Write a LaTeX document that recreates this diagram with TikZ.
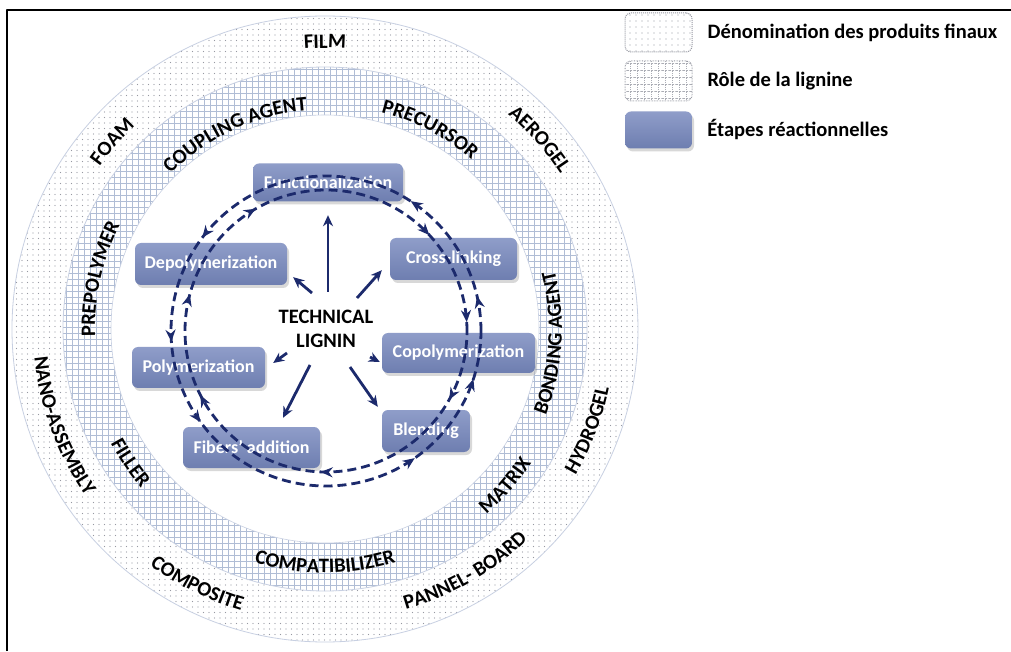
\documentclass[tikz,border=0pt]{standalone}
\usepackage{fontspec}
\setmainfont{Carlito}
\usetikzlibrary{arrows.meta,calc,positioning,shadows,patterns.meta,decorations.text,decorations.markings}

\definecolor{navy}{RGB}{28,42,108}
\definecolor{etapetop}{RGB}{143,157,201}
\definecolor{etapebot}{RGB}{110,126,176}
\definecolor{dotgrey}{RGB}{150,152,162}
\definecolor{gridblue}{RGB}{176,189,213}
\definecolor{ringedge}{RGB}{200,208,226}

\newcommand{\ringfont}{\fontsize{20.5}{23}\selectfont\bfseries}
\newcommand{\etapefont}{\fontsize{18}{21}\selectfont\bfseries}
\newcommand{\legfont}{\fontsize{20.5}{23}\selectfont\bfseries}
\newcommand{\tlfont}{\fontsize{20.5}{24.5}\selectfont\bfseries}

\tikzset{
  cwlbl/.style={decorate, decoration={text along path, text align=center, text={|\ringfont|#1}}},
  ccwlbl/.style={decorate, decoration={text along path, text align=center, text={|\ringfont|#1}}},
  etape/.style={rounded corners=6pt, top color=etapetop, bottom color=etapebot, text=white,
    font=\etapefont, minimum height=40pt, inner xsep=7pt,
    drop shadow={shadow xshift=2pt, shadow yshift=-3pt, opacity=0.3}},
  legdots/.style={rounded corners=6pt, draw=dotgrey, densely dotted, line width=1pt,
    pattern={Dots[distance=6pt, radius=0.55pt]}, pattern color=dotgrey,
    minimum width=67pt, minimum height=39pt},
  leggrid/.style={rounded corners=6pt, draw=dotgrey, densely dotted, line width=1pt,
    pattern={Hatch[distance=7pt, line width=0.6pt]}, pattern color=dotgrey!80,
    minimum width=67pt, minimum height=40pt},
  legtext/.style={font=\legfont, inner sep=0pt},
  solidarr/.style={navy, line width=2.8pt, -{Stealth[length=11pt, width=10pt]}},
  loopline/.style={draw=navy, line width=2.8pt, dash pattern=on 9pt off 5pt}
}

\begin{document}
\begin{tikzpicture}[x=1pt, y=1pt, line join=round]
\useasboundingbox (0,0) rectangle (1011,651);
\fill[white] (0,0) rectangle (1011,651);
\coordinate (ctr) at (325,322);
\coordinate (lctr) at (326,320);

% anneaux
\fill[pattern={Dots[distance=5.5pt, radius=0.6pt]}, pattern color=dotgrey] (ctr) circle (313);
\draw[ringedge, line width=0.8pt] (ctr) circle (313);
\fill[white] (ctr) circle (262);
\fill[pattern={Hatch[distance=6pt, line width=0.8pt]}, pattern color=gridblue] (ctr) circle (262);
\draw[ringedge, line width=0.8pt] (ctr) circle (262);
\fill[white] (ctr) circle (214);
\draw[ringedge, line width=0.6pt] (ctr) circle (214);

% produits finaux
\path[cwlbl=FILM] ($(ctr)+(125:281)$) arc[start angle=125, end angle=55, radius=281];
\path[cwlbl=AEROGEL] ($(ctr)+(76.5:282)$) arc[start angle=76.5, end angle=6.5, radius=282];
\path[cwlbl=FOAM] ($(ctr)+(173.6:278)$) arc[start angle=173.6, end angle=103.6, radius=278];
\path[ccwlbl=HYDROGEL] ($(ctr)+(-56:290)$) arc[start angle=-56, end angle=14, radius=290];
\path[ccwlbl={PANNEL- BOARD}] ($(ctr)+(-95:292)$) arc[start angle=-95, end angle=-25, radius=292];
\path[ccwlbl=COMPOSITE] ($(ctr)+(-151.6:294)$) arc[start angle=-151.6, end angle=-81.6, radius=294];
\path[ccwlbl=NANO-ASSEMBLY] ($(ctr)+(-194.7:292)$) arc[start angle=-194.7, end angle=-124.7, radius=292];
% role de la lignine
\path[cwlbl={COUPLING AGENT}] ($(ctr)+(149.7:219)$) arc[start angle=149.7, end angle=79.7, radius=219];
\path[cwlbl=PRECURSOR] ($(ctr)+(97.3:224)$) arc[start angle=97.3, end angle=27.3, radius=224];
\path[cwlbl=PREPOLYMER] ($(ctr)+(202.5:230)$) arc[start angle=202.5, end angle=132.5, radius=230];
\path[ccwlbl={BONDING AGENT}] ($(ctr)+(-38.5:237)$) arc[start angle=-38.5, end angle=31.5, radius=237];
\path[ccwlbl=MATRIX] ($(ctr)+(-76:246)$) arc[start angle=-76, end angle=-6, radius=246];
\path[ccwlbl=COMPATIBILIZER] ($(ctr)+(-125:244)$) arc[start angle=-125, end angle=-55, radius=244];
\path[ccwlbl=FILLER] ($(ctr)+(-180.5:243)$) arc[start angle=-180.5, end angle=-110.5, radius=243];

% legende
\node[legdots] (lgprod) at (658.5,618.5) {};
\node[leggrid] (lgrole) at (658.5,570) {};
\node[etape, minimum width=67pt, minimum height=37pt] (lgetap) at (658.5,521) {};
\node[legtext, right=15pt of lgprod] {Dénomination des produits finaux};
\node[legtext, right=15pt of lgrole] {Rôle de la lignine};
\node[legtext, right=15pt of lgetap] {Étapes réactionnelles};

% etapes
\node[etape, minimum width=150pt, minimum height=38pt] (func) at (328,468.5) {Functionalization};
\node[etape, minimum width=152pt, minimum height=42pt] (depoly) at (211,387) {Depolymerization};
\node[etape, minimum width=127pt, minimum height=42pt] (cross) at (453.5,392) {Cross-linking};
\node[etape, minimum width=153pt] (copoly) at (458.5,298) {Copolymerization};
\node[etape, minimum width=133pt, minimum height=41pt] (poly) at (198.5,283.5) {Polymerization};
\node[etape, minimum width=137pt, minimum height=41pt] (fib) at (251.5,203.5) {Fibers’ addition};
\node[etape, minimum width=88pt, minimum height=42pt] (blend) at (426,220) {Blending};

\node[align=center, font=\tlfont, inner sep=0pt] (tl) at (326,322) {TECHNICAL\\LIGNIN};

% cycles
\draw[loopline, postaction={decorate}, decoration={markings,
  mark=at position 0.036 with {\arrow{Stealth[length=12pt, width=10pt]}},
  mark=at position 0.158 with {\arrow{Stealth[length=12pt, width=10pt]}},
  mark=at position 0.397 with {\arrow{Stealth[length=12pt, width=10pt]}},
  mark=at position 0.511 with {\arrow{Stealth[length=12pt, width=10pt]}},
  mark=at position 0.600 with {\arrow{Stealth[length=12pt, width=10pt]}},
  mark=at position 0.847 with {\arrow{Stealth[length=12pt, width=10pt]}},
  mark=at position 0.950 with {\arrow{Stealth[length=12pt, width=10pt]}}}] (lctr) circle (155);
\draw[loopline, postaction={decorate}, decoration={markings,
  mark=at position 0.010 with {\arrowreversed{Stealth[length=12pt, width=10pt]}},
  mark=at position 0.119 with {\arrowreversed{Stealth[length=12pt, width=10pt]}},
  mark=at position 0.333 with {\arrowreversed{Stealth[length=12pt, width=10pt]}},
  mark=at position 0.458 with {\arrowreversed{Stealth[length=12pt, width=10pt]}},
  mark=at position 0.575 with {\arrowreversed{Stealth[length=12pt, width=10pt]}},
  mark=at position 0.744 with {\arrowreversed{Stealth[length=12pt, width=10pt]}},
  mark=at position 0.919 with {\arrowreversed{Stealth[length=12pt, width=10pt]}}}] (lctr) circle (141);

\draw[solidarr] ($(tl)+(2,37)$) -- ($(func.south)+(0,-13.5)$);
\draw[solidarr] ($(tl)+(-14,36)$) -- ($(depoly.south east)+(6,8)$);
\draw[solidarr] ($(tl)+(31,31)$) -- ($(cross.south west)+(-8,10)$);
\draw[solidarr] ($(tl)+(-39,-24)$) -- ($(poly.east)+(8,4.5)$);
\draw[solidarr] ($(tl)+(44,-28)$) -- ($(copoly.west)+(-2,-9)$);
\draw[solidarr] ($(tl)+(-16,-36)$) -- ($(fib.north)+(31.5,9)$);
\draw[solidarr] ($(tl)+(24,-38)$) -- ($(blend.north west)+(-4,3)$);

\draw[line width=2.2pt] (7,0) -- (7,641) -- (1011,641);
\end{tikzpicture}
\end{document}
